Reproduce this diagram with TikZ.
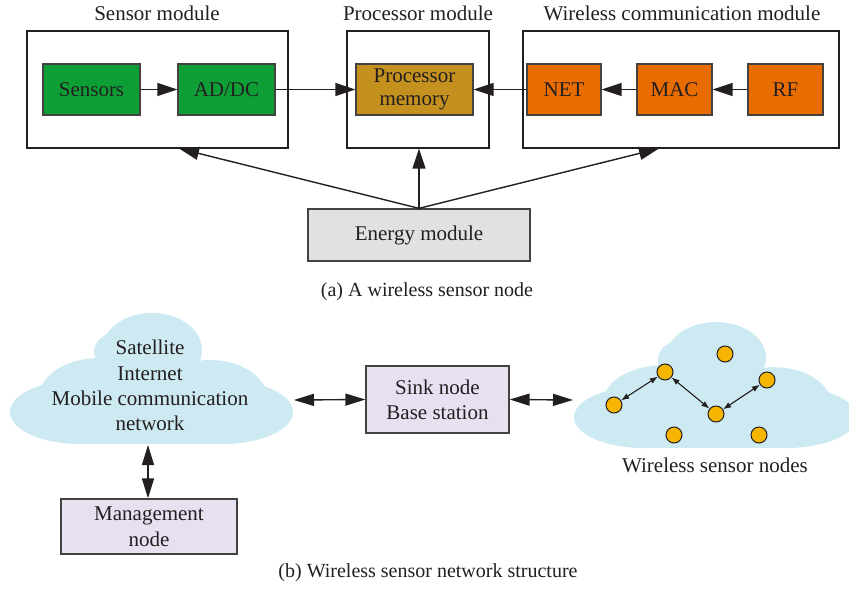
\documentclass[tikz,border=0pt]{standalone}
\usepackage{fontspec}
\setmainfont{Liberation Serif}
\usetikzlibrary{arrows.meta}
\definecolor{sensgreen}{HTML}{0E9E36}
\definecolor{procgold}{HTML}{C4901E}
\definecolor{netorange}{HTML}{E86C00}
\definecolor{energygray}{HTML}{E1E1E1}
\definecolor{lavender}{HTML}{E8E0F0}
\definecolor{cloudblue}{HTML}{CDE9F1}
\definecolor{dotyellow}{HTML}{F6B500}
\definecolor{inkdark}{HTML}{231F20}
\tikzset{
  modbox/.style={draw=inkdark, line width=1.3pt, inner sep=0pt, minimum height=117pt},
  blk/.style={draw=inkdark!85, line width=1.3pt, inner sep=0pt, minimum height=51pt, align=center, text=inkdark},
  lavbox/.style={draw=inkdark!85, fill=lavender, line width=1.3pt, inner sep=0pt, align=center, text=inkdark},
  arr/.style={draw=inkdark, line width=1.4pt, -{Triangle[length=20pt,width=13pt]}},
  barr/.style={draw=inkdark, line width=1.4pt, {Triangle[length=20pt,width=12pt]}-{Triangle[length=20pt,width=12pt]}},
  sarr/.style={draw=inkdark, line width=1.1pt, {Latex[length=8pt,width=6pt]}-{Latex[length=8pt,width=6pt]}},
  sdot/.style={circle, draw=inkdark, line width=1pt, fill=dotyellow, minimum size=16pt, inner sep=0pt},
  cloudshape/.pic={
    \fill[cloudblue] (70,99) ellipse [x radius=70, y radius=32];
    \fill[cloudblue] (212,99) ellipse [x radius=71, y radius=32];
    \fill[cloudblue] (70,67) rectangle (212,131);
    \fill[cloudblue] (90,82) ellipse [x radius=60, y radius=37];
    \fill[cloudblue] (108,39) ellipse [x radius=24, y radius=20];
    \fill[cloudblue] (142,37) ellipse [x radius=50, y radius=37];
    \fill[cloudblue] (200,87) ellipse [x radius=58, y radius=40];
  }
}
\begin{document}
\begin{tikzpicture}[x=1pt, y=-1pt, font=\fontsize{21}{25}\selectfont, text=inkdark]
\useasboundingbox (0,0) rectangle (849,597);

% ---------- (a) node architecture ----------
\node[modbox, minimum width=261pt] (smod) at (157.5,89.5) {};
\node[modbox, minimum width=142pt] (pmod) at (418,89.5) {};
\node[modbox, minimum width=316pt] (wmod) at (681,89.5) {};

\node (tsmod) at (157,13) {Sensor module};
\node (tpmod) at (418,13) {Processor module};
\node (twmod) at (682,13) {Wireless communication module};

\node[blk, fill=sensgreen, minimum width=97pt] (sensors) at (91.5,89.5) {Sensors};
\node[blk, fill=sensgreen, minimum width=97pt] (adc) at (226.5,89.5) {AD/DC};
\node[blk, fill=procgold, minimum width=117pt, font=\fontsize{21}{23}\selectfont] (proc) at (414.5,89.5) {Processor\\memory};
\node[blk, fill=netorange, minimum width=74pt] (net) at (564,89.5) {NET};
\node[blk, fill=netorange, minimum width=75pt] (mac) at (674.5,89.5) {MAC};
\node[blk, fill=netorange, minimum width=75pt] (rf) at (785.5,89.5) {RF};

\draw[arr] (sensors) -- (adc);
\draw[arr] (adc) -- (proc);
\draw[arr] (net) -- (proc);
\draw[arr] (mac) -- (net);
\draw[arr] (rf) -- (mac);

\node[blk, fill=energygray, minimum width=222pt, minimum height=52pt] (energy) at (419,235) {Energy module};
\coordinate (sin) at (179,148.5);
\coordinate (win) at (659,148.5);
\draw[arr] (energy.north) -- (sin);
\draw[arr] (energy.north) -- (energy.north |- pmod.south);
\draw[arr] (energy.north) -- (win);

\node[font=\fontsize{20}{24}\selectfont] (capa) at (427,292) {(a) A wireless sensor node};

% ---------- (b) network structure ----------
\pic at (10,313) {cloudshape};
\begin{scope}
  \clip (0,0) rectangle (849,597);
  \pic[yscale=0.962] at (574,322) {cloudshape};
\end{scope}

\node[align=center, font=\fontsize{21}{25.3}\selectfont] (net1) at (150,385.5) {Satellite\\Internet\\Mobile communication\\network};
\coordinate (lce) at (294,400);
\coordinate (lcs) at (148,445);
\coordinate (rcw) at (573,400);

\node[lavbox, minimum width=143pt, minimum height=67pt] (sink) at (437.5,399.5) {Sink node\\Base station};
\node[lavbox, minimum width=176pt, minimum height=55pt, font=\fontsize{21}{26}\selectfont] (mgmt) at (149,526.5) {Management\\node};

\draw[barr] (lce) -- (sink.west);
\draw[barr] (sink.east) -- (rcw);
\draw[barr] (lcs) -- (mgmt.north -| lcs);

\node[sdot] (d1) at (614,405) {};
\node[sdot] (d2) at (665,372) {};
\node[sdot] (d3) at (725,354) {};
\node[sdot] (d4) at (767,380) {};
\node[sdot] (d5) at (716,414) {};
\node[sdot] (d6) at (674,435) {};
\node[sdot] (d7) at (759,435) {};
\draw[sarr] (d1) -- (d2);
\draw[sarr] (d2) -- (d5);
\draw[sarr] (d5) -- (d4);

\node (wsn) at (715,465) {Wireless sensor nodes};
\node[font=\fontsize{20}{24}\selectfont] (capb) at (428,573) {(b) Wireless sensor network structure};
\end{tikzpicture}
\end{document}
